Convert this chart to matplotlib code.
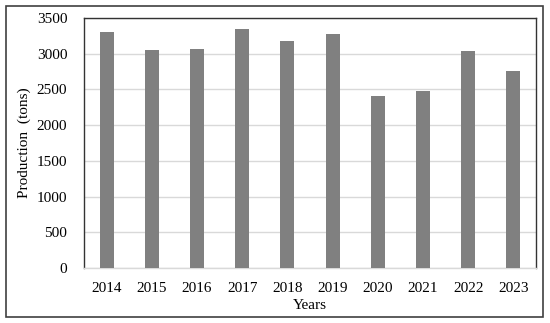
import numpy as np
import matplotlib.pyplot as plt
from matplotlib.patches import Rectangle

years = ['2014', '2015', '2016', '2017', '2018', '2019', '2020', '2021', '2022', '2023']
production = [3300, 3057, 3070, 3350, 3173, 3280, 2412, 2478, 3038, 2754]

plt.rcParams['font.family'] = ['Liberation Serif', 'DejaVu Serif']

fig = plt.figure(figsize=(5.5, 3.23), dpi=100)
ax = fig.add_axes([84/550, 1 - 268/323, (536-84)/550, (268-18)/323])

x = np.arange(len(years))
ax.bar(x, production, width=0.31, color='#808080', zorder=3)

ax.set_xlim(-0.5, len(years) - 0.5)
ax.set_ylim(0, 3500)
ax.set_yticks(range(0, 3501, 500))
ax.set_xticks(x)
ax.set_xticklabels(years)
ax.yaxis.grid(True, color='#d9d9d9', linewidth=1, zorder=0)
ax.tick_params(axis='both', length=0, labelsize=11, colors='black')
ax.tick_params(axis='x', pad=10)
ax.tick_params(axis='y', pad=12)

for s in ['left', 'top', 'right']:
    ax.spines[s].set_color('#333333')
    ax.spines[s].set_linewidth(1)
ax.spines['bottom'].set_color('#d9d9d9')
ax.spines['bottom'].set_linewidth(1)

ax.set_xlabel('Years', fontsize=11, labelpad=3)
ax.set_ylabel('Production  (tons)', fontsize=11, labelpad=4)

# outer frame around the whole chart
fig.patches.append(Rectangle((6/550, 1 - 317/323), (543-6)/550, (317-6)/323,
                             transform=fig.transFigure, fill=False,
                             edgecolor='#404040', linewidth=1.2))

fig.savefig('out.png', dpi=100)
